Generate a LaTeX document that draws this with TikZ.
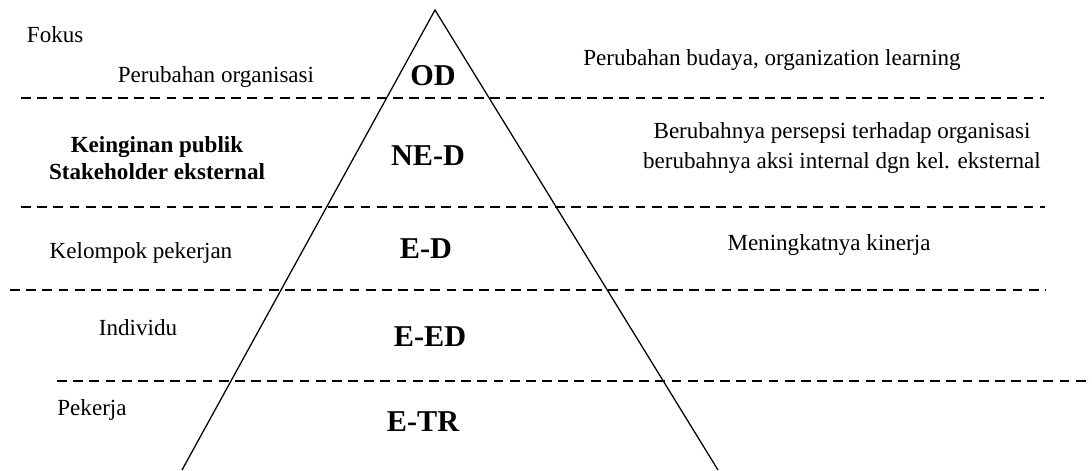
\documentclass[tikz,border=0pt]{standalone}
\usepackage{fontspec}
\setmainfont{Liberation Serif}
\usetikzlibrary{positioning}

\begin{document}
\begin{tikzpicture}[x=0.025cm, y=-0.025cm, font=\fontsize{16.4}{21.5}\selectfont,
    lvl/.style={font=\fontsize{21.5}{25}\selectfont\bfseries},
    sep/.style={dash pattern=on 7pt off 4.5pt, line width=1.2pt}]
    \useasboundingbox (0,0) rectangle (1092,470);

    % pyramid
    \coordinate (top) at (435,10);
    \coordinate (bl) at (182,470);
    \coordinate (br) at (718,470);
    \draw[line width=0.9pt] (bl) -- (top) -- (br);

    % level separators
    \coordinate (s1l) at (21,98);   \coordinate (s1r) at (1044,98);
    \coordinate (s2l) at (21,207);  \coordinate (s2r) at (1045,207);
    \coordinate (s3l) at (10,290);  \coordinate (s3r) at (1046,290);
    \coordinate (s4l) at (57,381);  \coordinate (s4r) at (1092,381);
    \draw[sep] (s1l) -- (s1r);
    \draw[sep] (s2l) -- (s2r);
    \draw[sep] (s3l) -- (s3r);
    \draw[sep] (s4l) -- (s4r);

    % left column
    \node(fokus) [anchor=west] at (22,35) {Fokus};
    \node(org) at (216,77) {Perubahan organisasi};
    \node(pub) [align=center, font=\fontsize{16.4}{19.5}\selectfont\bfseries] at (157,158) {Keinginan publik\\Stakeholder eksternal};
    \node(kel) at (141,253) {Kelompok pekerjan};
    \node(ind) at (138,328) {Individu};
    \node(pek) at (92,410) {Pekerja};

    % levels
    \node(od) [lvl] at (433,76) {OD};
    \node(ned) [lvl] at (428,156) {NE-D};
    \node(ed) [lvl] at (426,249) {E-D};
    \node(eed) [lvl] at (430,337) {E-ED};
    \node(etr) [lvl] at (423,422) {E-TR};

    % right column
    \node(bud) at (772,60) {Perubahan budaya, organization learning};
    \node(per) [align=center] at (842,148) {Berubahnya persepsi terhadap organisasi\\berubahnya aksi internal dgn kel. eksternal};
    \node(kin) at (829,245) {Meningkatnya kinerja};
\end{tikzpicture}
\end{document}
